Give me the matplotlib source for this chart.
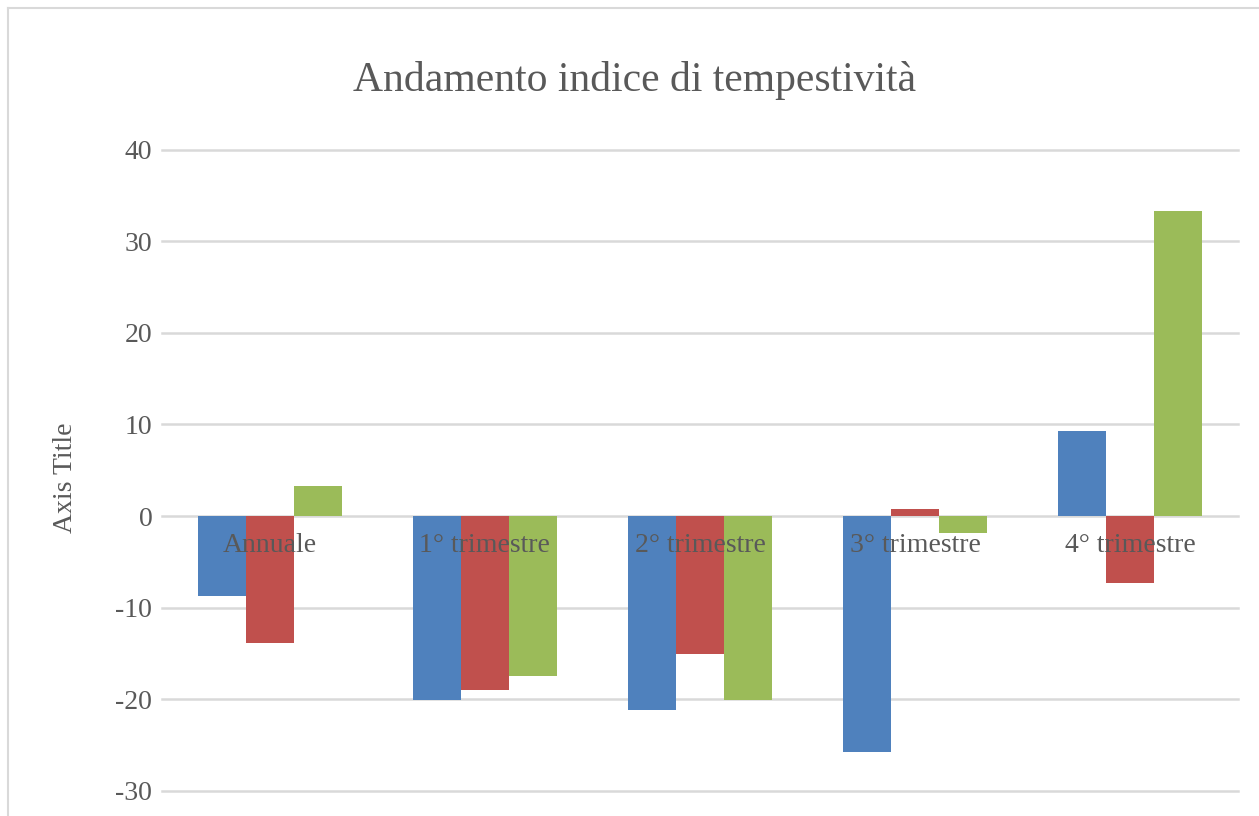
import matplotlib
matplotlib.use("Agg")
import matplotlib.pyplot as plt
import matplotlib.transforms as mtransforms
from matplotlib.lines import Line2D
import numpy as np

categories = ["Annuale", "1° trimestre", "2° trimestre", "3° trimestre", "4° trimestre"]
series_1 = [-8.7, -20.1, -21.2, -25.7, 9.3]
series_2 = [-13.8, -19.0, -15.1, 0.8, -7.3]
series_3 = [3.3, -17.4, -20.1, -1.8, 33.3]
colors = ["#4F81BD", "#C0504D", "#9BBB59"]
yticks = [-30, -20, -10, 0, 10, 20, 30, 40]

plt.rcParams['font.family'] = ['Liberation Serif', 'DejaVu Serif']
txt = "#595959"
grid = "#D9D9D9"

W, H = 1259, 816
fig = plt.figure(figsize=(W / 100, H / 100), dpi=100)

# outer chart border (top and left visible, rest cropped)
fig.add_artist(Line2D([8 / W, 8 / W], [0, 1 - 8 / H], transform=fig.transFigure, color=grid, lw=1.5))
fig.add_artist(Line2D([8 / W, 1], [1 - 8 / H, 1 - 8 / H], transform=fig.transFigure, color=grid, lw=1.5))

left, right = 162 / W, 1238 / W
top, bottom = 1 - 149.5 / H, 1 - 791 / H
ax = fig.add_axes([left, bottom, right - left, top - bottom])

x = np.arange(len(categories))
w = 0.223
for j, (vals, c) in enumerate(zip([series_1, series_2, series_3], colors)):
    ax.bar(x + (j - 1) * w, vals, width=w, color=c, zorder=2)

ax.set_xlim(-0.5, len(categories) - 0.5)
ax.set_ylim(-30, 40)
ax.set_yticks(yticks)
ax.set_yticklabels([str(v) for v in yticks])
ax.yaxis.grid(True, color=grid, lw=1.8, zorder=0)
for gl in ax.get_ygridlines():
    gl.set_clip_on(False)
ax.set_axisbelow(True)
ax.tick_params(axis='y', length=0, pad=7, labelsize=20, labelcolor=txt)
ax.set_xticks([])
for s in ax.spines.values():
    s.set_visible(False)

offset = mtransforms.offset_copy(ax.transData, fig=fig, x=0, y=-29, units='dots')
for i, lab in enumerate(categories):
    ax.text(i, 0, lab, transform=offset, ha='center', va='center', fontsize=20, color=txt, zorder=5)

fig.text(66 / W, 1 - 478 / H, "Axis Title", rotation=90, ha='center', va='center', fontsize=20, color=txt)
fig.text(635 / W, 1 - 80 / H, "Andamento indice di tempestività", ha='center', va='center', fontsize=30, color=txt)

fig.savefig("out.png", dpi=100)
